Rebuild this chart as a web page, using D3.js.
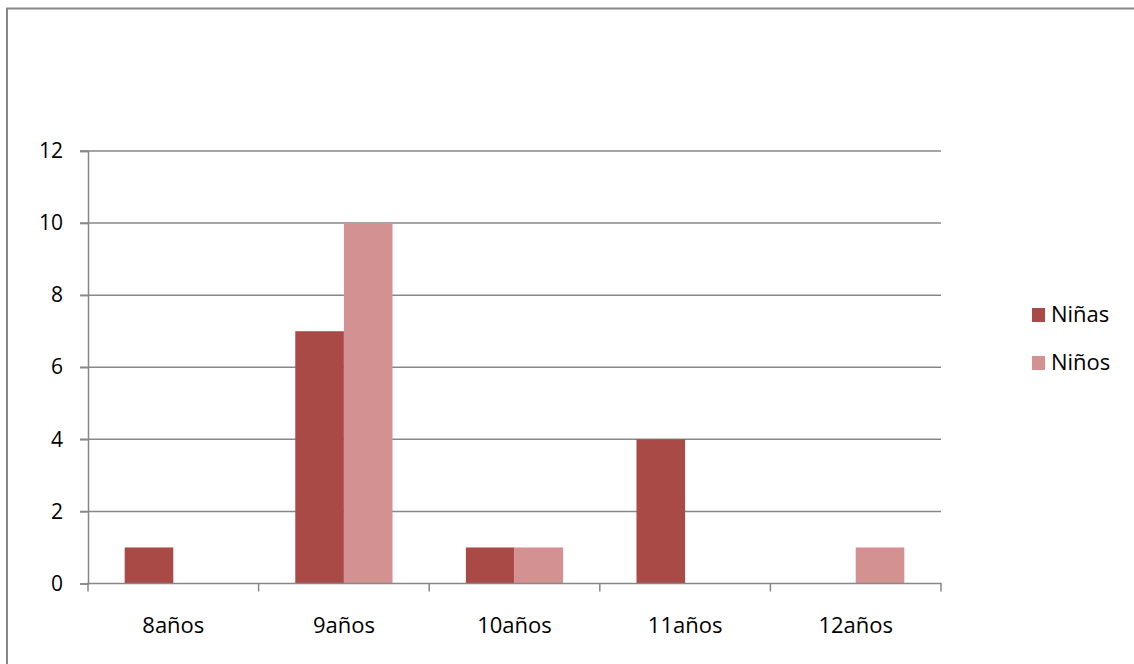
<!DOCTYPE html>
<html lang="es">
<head>
    <meta charset="UTF-8">
    <title>Niñas y Niños por edad</title>
    <style>
        body { margin: 0; background: #fff; }
        svg text { font-family: "Open Sans", "Liberation Sans", sans-serif; fill: #000; }
    </style>
</head>
<body>
    <div id="chart"></div>
    <script src="https://d3js.org/d3.v7.min.js"></script>
    <script>
        // Data
        const categories = ["8años", "9años", "10años", "11años", "12años"];
        const seriesNames = ["Niñas", "Niños"];
        const ninas = [1, 7, 1, 4, 0];
        const ninos = [0, 10, 1, 0, 1];
        const yTicks = [0, 2, 4, 6, 8, 10, 12];
        const colors = ["#AA4A46", "#D39291"];

        const width = 1134, height = 664;
        const plot = { left: 88, right: 941, top: 151, bottom: 583.5 };

        const svg = d3.select("#chart").append("svg")
            .attr("width", width)
            .attr("height", height);

        // outer frame (only top and left edges visible in the picture)
        svg.append("rect")
            .attr("x", 7).attr("y", 8.5)
            .attr("width", 1140).attr("height", 680)
            .attr("fill", "none")
            .attr("stroke", "#878787")
            .attr("stroke-width", 2);

        const x = d3.scaleBand()
            .domain(categories)
            .range([plot.left, plot.right])
            .paddingInner(0.43)
            .paddingOuter(0.215);

        const x0 = d3.scaleBand()
            .domain(categories)
            .range([plot.left, plot.right]);

        const xs = d3.scaleBand()
            .domain(seriesNames)
            .range([0, x.bandwidth()]);

        const y = d3.scaleLinear()
            .domain([0, 12])
            .range([plot.bottom, plot.top]);

        // gridlines
        svg.append("g")
            .selectAll("line")
            .data(yTicks.filter(d => d > 0))
            .join("line")
            .attr("x1", plot.left - 8)
            .attr("x2", plot.right)
            .attr("y1", d => y(d))
            .attr("y2", d => y(d))
            .attr("stroke", "#878787")
            .attr("stroke-width", 1.5);

        // bars
        const rows = categories.map((c, i) => ({ cat: c, values: [ninas[i], ninos[i]] }));
        const groups = svg.append("g")
            .selectAll("g")
            .data(rows)
            .join("g")
            .attr("transform", d => `translate(${x(d.cat)},0)`);

        groups.selectAll("rect")
            .data(d => d.values.map((v, j) => ({ name: seriesNames[j], v, j })))
            .join("rect")
            .filter(d => d.v > 0)
            .attr("x", d => xs(d.name))
            .attr("width", xs.bandwidth())
            .attr("y", d => y(d.v))
            .attr("height", d => y(0) - y(d.v))
            .attr("fill", d => colors[d.j]);

        // y axis
        const yAxis = svg.append("g")
            .attr("transform", `translate(${plot.left},0)`)
            .call(d3.axisLeft(y).tickValues(yTicks).tickSize(8).tickPadding(17));
        yAxis.select(".domain").attr("stroke", "#878787").attr("stroke-width", 1.5);
        yAxis.selectAll(".tick line").attr("stroke", "#878787").attr("stroke-width", 1.5);
        yAxis.selectAll("text").attr("font-size", 21).attr("font-family", "Open Sans, sans-serif").attr("fill", "#000");

        // x axis
        const xAxis = svg.append("g")
            .attr("transform", `translate(0,${plot.bottom})`)
            .call(d3.axisBottom(x0).tickSize(0).tickPadding(34));
        xAxis.select(".domain").attr("stroke", "#878787").attr("stroke-width", 1.5)
            .attr("d", `M${plot.left},8V0H${plot.right}V8`);
        xAxis.selectAll("text").attr("font-size", 22).attr("font-family", "Open Sans, sans-serif").attr("fill", "#000");

        // category separators
        svg.append("g")
            .selectAll("line")
            .data(categories.slice(1))
            .join("line")
            .attr("x1", d => x0(d)).attr("x2", d => x0(d))
            .attr("y1", plot.bottom).attr("y2", plot.bottom + 8)
            .attr("stroke", "#878787")
            .attr("stroke-width", 1.5);

        // legend
        const legend = svg.append("g")
            .selectAll("g")
            .data(seriesNames)
            .join("g")
            .attr("transform", (d, i) => `translate(1032,${308 + i * 48})`);
        legend.append("rect")
            .attr("width", 13).attr("height", 14)
            .attr("fill", (d, i) => colors[i]);
        legend.append("text")
            .attr("x", 19).attr("y", 14)
            .attr("font-size", 22)
            .text(d => d);
    </script>
</body>
</html>
